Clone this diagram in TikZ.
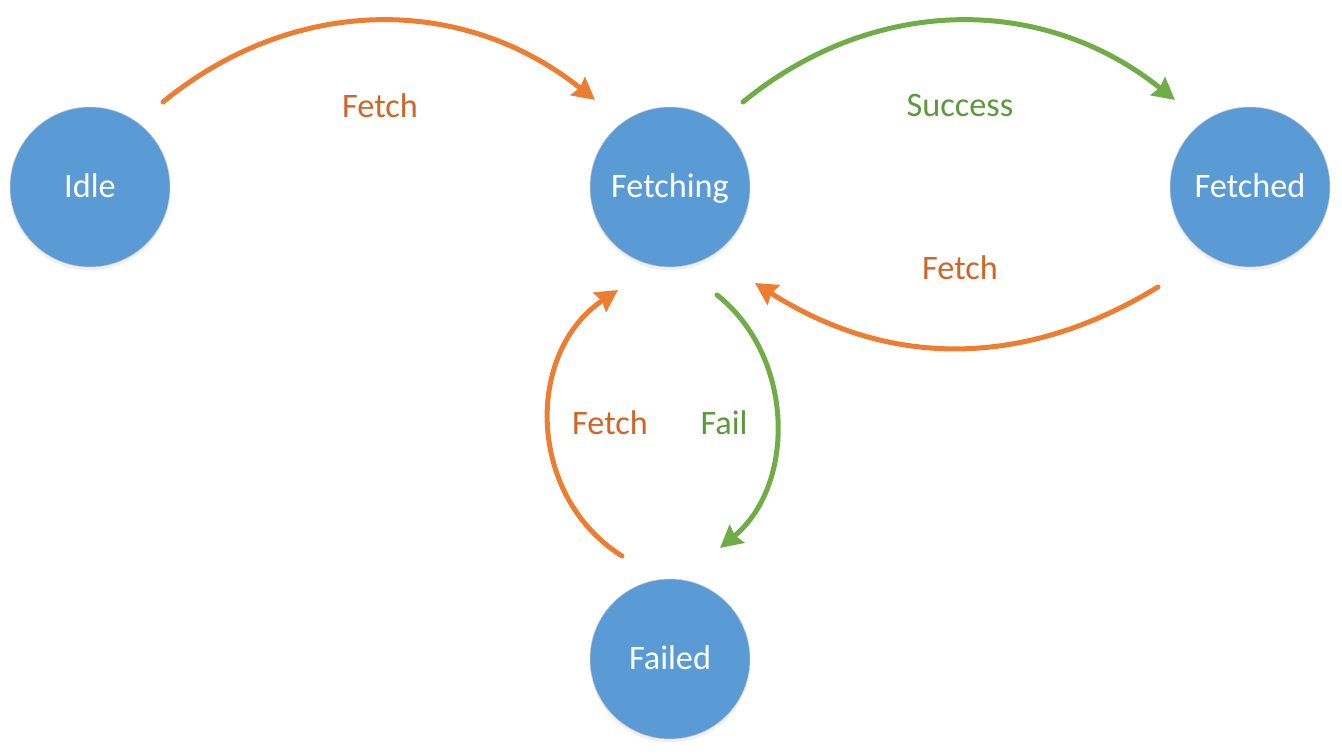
\documentclass[tikz,border=0pt]{standalone}
\usepackage{fontspec}
\setmainfont{Carlito}
\usepackage{xcolor}
\usetikzlibrary{arrows.meta,calc,shadows}
\definecolor{stateblue}{HTML}{5B9BD5}
\definecolor{fetchorange}{HTML}{ED7D31}
\definecolor{fetchtext}{HTML}{CD6627}
\definecolor{okgreen}{HTML}{70AD47}
\definecolor{oktext}{HTML}{5B9A3B}

\begin{document}
\begin{tikzpicture}[line cap=round,line join=round,x=0.02cm,y=0.02cm,
        state/.style={circle,fill=stateblue,draw=black!22,line width=0.3pt,minimum size=3.2cm,inner sep=0pt,
            text=white,font=\fontsize{19.5}{23}\selectfont,text height=0.5cm,text depth=0.06cm,
            drop shadow={opacity=0.12,shadow xshift=0pt,shadow yshift=-2pt}},
        orangeedge/.style={draw=fetchorange,line width=2.85pt,-{Stealth[length=0.44cm,width=0.46cm,inset=0.05cm]}},
        greenedge/.style={draw=okgreen,line width=2.85pt,-{Stealth[length=0.44cm,width=0.46cm,inset=0.05cm]}},
        orangelabel/.style={text=fetchtext,font=\fontsize{19.5}{23}\selectfont},
        greenlabel/.style={text=oktext,font=\fontsize{19.5}{23}\selectfont}]
                \useasboundingbox (0,0) rectangle (1342,756);
                % states
                \node[state] (idle) at (90,569) {Idle};
                \node[state] (fetching) at (670,569) {Fetching};
                \node[state] (fetched) at (1250,569) {Fetched};
                \node[state] (failed) at (670,97) {Failed};
                % transitions
                \draw [orangeedge] ($(idle)+(73,85)$) to[bend left=39] ($(fetching)+(-75,87)$);
                \draw [greenedge] ($(fetching)+(73,85)$) to[bend left=39] ($(fetched)+(-75,87)$);
                \draw [orangeedge] ($(fetched)+(-92,-100)$) to[bend left=32] ($(fetching)+(85,-96)$);
                \draw [greenedge] ($(fetching)+(47,-108)$) to[bend left=51] ($(failed)+(50,111)$);
                \draw [orangeedge] ($(failed)+(-48,103)$) to[bend left=57,looseness=1.08] ($(fetching)+(-52,-103)$);
                % labels
                \node[orangelabel] (lblidle) at (380,650) {Fetch};
                \node[greenlabel] (lblsuccess) at (960,650) {Success};
                \node[orangelabel] (lblrefetch) at (960,488) {Fetch};
                \node[orangelabel] (lblretry) at (610,333) {Fetch};
                \node[greenlabel] (lblfail) at (724,333) {Fail};
            \end{tikzpicture}
\end{document}
